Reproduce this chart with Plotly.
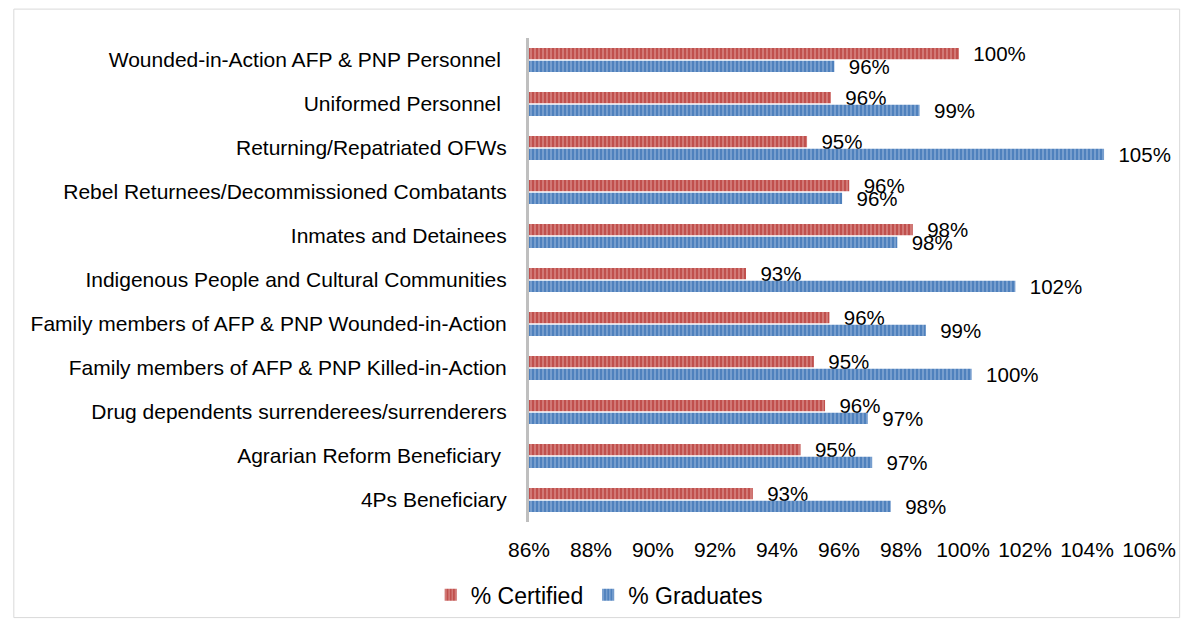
import plotly.graph_objects as go

categories = [
    "Wounded-in-Action AFP & PNP Personnel\u00a0",
    "Uniformed Personnel\u00a0",
    "Returning/Repatriated OFWs",
    "Rebel Returnees/Decommissioned Combatants",
    "Inmates and Detainees",
    "Indigenous People and Cultural Communities",
    "Family members of AFP & PNP Wounded-in-Action",
    "Family members of AFP & PNP Killed-in-Action",
    "Drug dependents surrenderees/surrenderers",
    "Agrarian Reform Beneficiary\u00a0",
    "4Ps Beneficiary",
]
certified = [99.87, 95.74, 94.97, 96.33, 98.38, 93.0, 95.69, 95.19, 95.55, 94.76, 93.22]
graduates = [95.85, 98.6, 104.55, 96.1, 97.88, 101.69, 98.8, 100.28, 96.93, 97.07, 97.67]
xticks = [86, 88, 90, 92, 94, 96, 98, 100, 102, 104, 106]

FONT = "Liberation Sans, Arial, sans-serif"

# figure is drawn at (8, 8) in the page because of the default body margin
W, H = 1180, 620
L, R, T, B = 521, 32, 30, 104
PW = W - L - R
PH = H - T - B

fig = go.Figure()
fig.add_trace(go.Bar(
    y=categories, x=certified, orientation="h", name="% Certified",
    marker=dict(color="#c0504d", line=dict(width=0),
                pattern=dict(shape="|", fgcolor="#e8aaa8", size=4, solidity=0.45, fillmode="overlay")),
    texttemplate="\u00a0\u00a0%{x:.0f}%", textposition="outside", constraintext="none",
    textfont=dict(size=20.5, color="#000000", family=FONT), cliponaxis=False,
))
fig.add_trace(go.Bar(
    y=categories, x=graduates, orientation="h", name="% Graduates",
    marker=dict(color="#4f81bd", line=dict(width=0),
                pattern=dict(shape="|", fgcolor="#a9c1e3", size=4, solidity=0.45, fillmode="overlay")),
    texttemplate="\u00a0\u00a0%{x:.0f}%", textposition="outside", constraintext="none",
    textfont=dict(size=20.5, color="#000000", family=FONT), cliponaxis=False,
))

fig.update_layout(
    width=W, height=H,
    margin=dict(l=L, r=R, t=T, b=B),
    paper_bgcolor="white", plot_bgcolor="white",
    barmode="group", bargap=0.42, bargroupgap=0.12,
    font=dict(family=FONT, size=21, color="#000000"),
    showlegend=True,
    legend=dict(orientation="h", x=(592 - L) / PW, xanchor="center",
                y=(T + PH - 589) / PH, yanchor="middle", bgcolor="rgba(0,0,0,0)",
                font=dict(size=23, family=FONT), traceorder="normal", itemwidth=30),
    shapes=[dict(type="rect", xref="paper", yref="paper",
                 x0=(0 - L) / PW, x1=(1179 - L) / PW,
                 y0=(T + PH - 612) / PH, y1=(T + PH - 1) / PH,
                 line=dict(color="#d9d9d9", width=1), fillcolor="rgba(0,0,0,0)", layer="below")],
)
fig.update_xaxes(range=[86, 106], tickvals=xticks, ticktext=[f"{v}%" for v in xticks],
                 showgrid=False, zeroline=False, showline=False, ticks="",
                 ticklabelstandoff=13, tickfont=dict(size=21, family=FONT))
fig.update_yaxes(autorange="reversed", showgrid=False, showline=True, linecolor="#bfbfbf",
                 linewidth=3, ticks="", ticklabelstandoff=15,
                 tickfont=dict(size=21, family=FONT))

fig.write_html("out.html")
